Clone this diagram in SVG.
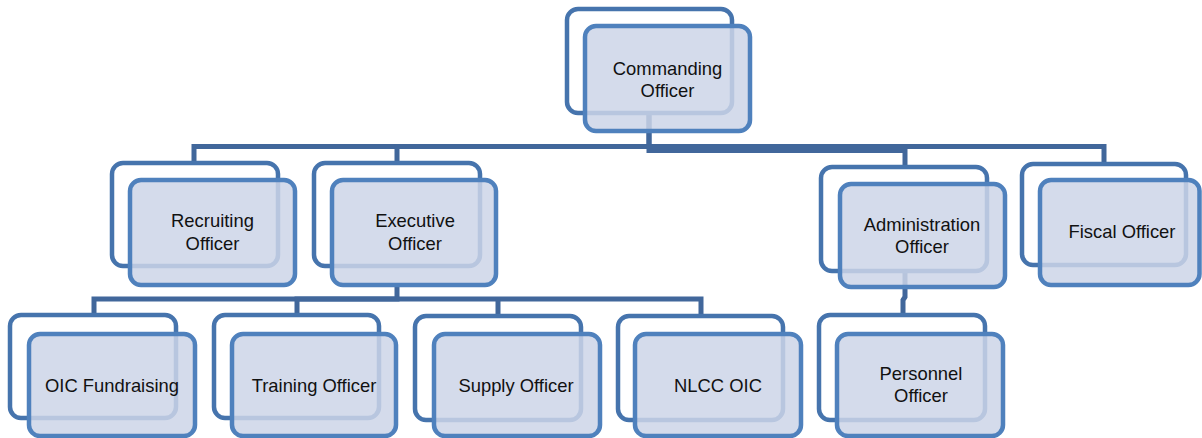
<svg xmlns="http://www.w3.org/2000/svg" width="1202" height="438" viewBox="0 0 1202 438">
  <style>
    .back { fill: #ffffff; stroke: #4674ad; stroke-width: 4.5; }
    .front { fill: #cdd5e7; fill-opacity: 0.85; stroke: #4f81bd; stroke-width: 4.5; }
    .conn { fill: none; stroke: #41679b; stroke-width: 5; }
    text { font-family: "Liberation Sans", Arial, sans-serif; font-size: 18.4px; fill: #111111; text-anchor: middle; }
  </style>
  <rect width="1202" height="438" fill="#ffffff"/>

  <!-- connectors, drawn beneath the boxes -->
  <g id="connectors">
    <path class="conn" d="M649 113 V146.5 H194 V163"/>
    <path class="conn" d="M649 146.5 H397 V163"/>
    <path class="conn" d="M649 113 V150.5 H905 V167"/>
    <path class="conn" d="M649 146.5 H1104 V164"/>
    <path class="conn" d="M397 285 V299 H94 V315"/>
    <path class="conn" d="M397 299 H297 V315"/>
    <path class="conn" d="M397 299 H701 V316"/>
    <path class="conn" d="M498 299 V316"/>
    <path class="conn" d="M905 273 V297 L903 300 V315"/>
  </g>

  <g id="commanding-officer">
    <rect class="back" x="567" y="9" width="165" height="104" rx="11"/>
    <rect class="front" x="585" y="26" width="165" height="105" rx="11"/>
    <text x="667.5" y="75">Commanding</text>
    <text x="667.5" y="97">Officer</text>
  </g>

  <g id="recruiting-officer">
    <rect class="back" x="112" y="163" width="166" height="103" rx="11"/>
    <rect class="front" x="130" y="180" width="165" height="105" rx="11"/>
    <text x="212.5" y="227">Recruiting</text>
    <text x="212.5" y="250">Officer</text>
  </g>

  <g id="executive-officer">
    <rect class="back" x="314" y="163" width="166" height="103" rx="11"/>
    <rect class="front" x="332" y="180" width="164" height="105" rx="11"/>
    <text x="415" y="227">Executive</text>
    <text x="415" y="250">Officer</text>
  </g>

  <g id="administration-officer">
    <rect class="back" x="821" y="167" width="166" height="104" rx="11"/>
    <rect class="front" x="840" y="184" width="165" height="103" rx="11"/>
    <text x="922" y="231">Administration</text>
    <text x="922" y="253">Officer</text>
  </g>

  <g id="fiscal-officer">
    <rect class="back" x="1022" y="164" width="164" height="101" rx="11"/>
    <rect class="front" x="1040" y="180" width="159.5" height="105" rx="11"/>
    <text x="1122" y="238">Fiscal Officer</text>
  </g>

  <g id="oic-fundraising">
    <rect class="back" x="10" y="315" width="166" height="103" rx="11"/>
    <rect class="front" x="29" y="334" width="166" height="102" rx="11"/>
    <text x="112" y="392">OIC Fundraising</text>
  </g>

  <g id="training-officer">
    <rect class="back" x="214" y="315" width="165" height="103" rx="11"/>
    <rect class="front" x="232" y="334" width="164" height="102" rx="11"/>
    <text x="314" y="392">Training Officer</text>
  </g>

  <g id="supply-officer">
    <rect class="back" x="415" y="316" width="166" height="104" rx="11"/>
    <rect class="front" x="434" y="334" width="166" height="102" rx="11"/>
    <text x="516" y="392">Supply Officer</text>
  </g>

  <g id="nlcc-oic">
    <rect class="back" x="618" y="316" width="165" height="104" rx="11"/>
    <rect class="front" x="635" y="334" width="166" height="102" rx="11"/>
    <text x="718" y="392">NLCC OIC</text>
  </g>

  <g id="personnel-officer">
    <rect class="back" x="819" y="315" width="166" height="105" rx="11"/>
    <rect class="front" x="837" y="334" width="166" height="102" rx="11"/>
    <text x="921" y="380">Personnel</text>
    <text x="921" y="402">Officer</text>
  </g>
</svg>
